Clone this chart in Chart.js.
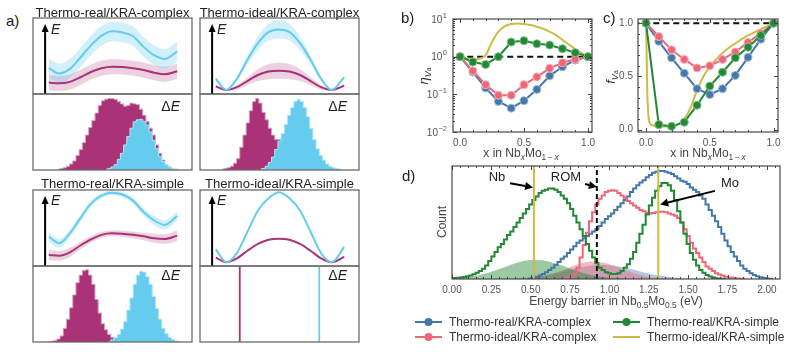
<!DOCTYPE html>
<html><head><meta charset="utf-8">
<script src="https://cdn.jsdelivr.net/npm/chart.js@4"></script>
<style>
body{margin:0;background:#fff;}
#wrap{position:relative;width:792px;height:355px;overflow:hidden;font-family:"Liberation Sans",Arial,sans-serif;background:#fff;}
canvas{position:absolute;}
.t{position:absolute;white-space:nowrap;color:#222;line-height:1;}
.sb{font-size:0.7em;position:relative;top:0.3em;}
</style></head><body><div id="wrap"></div>
<script>
// ---------------- DATA ----------------
// panel a: reaction coordinate for the energy landscapes
const aCoord = [-0.1,0,0.1,0.2,0.3,0.4,0.5,0.6,0.7,0.8,0.9,1.0,1.12];
// Thermo-real/KRA-complex (top-left)
const tlCyan  = [0.34,0.27,0.33,0.48,0.64,0.765,0.825,0.81,0.76,0.62,0.51,0.46,0.56];
const tlCyanU = [0.47,0.40,0.46,0.61,0.77,0.895,0.955,0.94,0.89,0.75,0.64,0.59,0.69];
const tlCyanL = [0.21,0.14,0.20,0.35,0.51,0.635,0.695,0.68,0.63,0.49,0.38,0.33,0.43];
const tlPurp  = [0.15,0.14,0.16,0.22,0.29,0.34,0.36,0.355,0.34,0.315,0.28,0.26,0.30];
const tlPurpU = [0.25,0.24,0.26,0.32,0.39,0.44,0.46,0.455,0.44,0.415,0.38,0.36,0.40];
const tlPurpL = [0.05,0.04,0.06,0.12,0.19,0.24,0.26,0.255,0.24,0.215,0.18,0.16,0.20];
// Thermo-ideal/KRA-complex (top-right)
const trCyan  = [0.20,0.053,0.20,0.45,0.67,0.815,0.85,0.815,0.67,0.45,0.20,0.053,0.22];
const trCyanU = [0.22,0.053,0.23,0.51,0.76,0.925,0.97,0.925,0.76,0.51,0.23,0.053,0.24];
const trCyanL = [0.18,0.053,0.17,0.39,0.58,0.705,0.73,0.705,0.58,0.39,0.17,0.053,0.20];
const trPurp  = [0.10,0.053,0.09,0.17,0.25,0.295,0.307,0.295,0.25,0.17,0.09,0.053,0.11];
const trPurpU = [0.12,0.053,0.12,0.22,0.33,0.395,0.415,0.395,0.33,0.22,0.12,0.053,0.13];
const trPurpL = [0.08,0.053,0.06,0.12,0.17,0.195,0.20,0.195,0.17,0.12,0.06,0.053,0.09];
// Thermo-real/KRA-simple (bottom-left)
const blCyan  = [0.385,0.30,0.43,0.63,0.82,0.925,0.965,0.94,0.86,0.71,0.60,0.54,0.66];
const blCyanU = [0.45,0.36,0.48,0.675,0.86,0.96,0.995,0.975,0.90,0.76,0.66,0.60,0.72];
const blCyanL = [0.32,0.24,0.38,0.585,0.78,0.89,0.935,0.905,0.82,0.66,0.54,0.48,0.60];
const blPurp  = [0.145,0.135,0.18,0.27,0.35,0.41,0.43,0.425,0.41,0.39,0.365,0.355,0.40];
const blPurpU = [0.21,0.20,0.24,0.32,0.395,0.45,0.47,0.465,0.455,0.44,0.425,0.42,0.47];
const blPurpL = [0.08,0.07,0.12,0.22,0.305,0.37,0.39,0.385,0.365,0.34,0.305,0.29,0.33];
// Thermo-ideal/KRA-simple (bottom-right)
const brCyan  = [0.22,0.05,0.17,0.45,0.73,0.89,0.97,0.89,0.73,0.45,0.17,0.05,0.25];
const brPurp  = [0.11,0.05,0.10,0.20,0.29,0.345,0.36,0.345,0.29,0.20,0.10,0.05,0.12];

// panel a: barrier distributions (bin width 0.02 of the panel width)
const aBinW = 0.02;
const tlHistPurpStart = 0.16;
const tlHistPurp = [0.01,0.02,0.03,0.05,0.08,0.12,0.19,0.27,0.36,0.46,0.56,0.65,0.75,0.85,0.91,0.93,0.94,0.94,0.93,0.90,0.87,0.84,0.85,0.88,0.87,0.86,0.80,0.72,0.64,0.55,0.46,0.33,0.22,0.13,0.07,0.04,0.02,0.01,0];
const tlHistCyanStart = 0.46;
const tlHistCyan = [0.01,0.02,0.04,0.07,0.14,0.22,0.33,0.44,0.55,0.635,0.66,0.667,0.64,0.59,0.50,0.39,0.28,0.18,0.11,0.07,0.04,0.02,0.01,0];
const trHistPurpStart = 0.14;
const trHistPurp = [0.01,0.02,0.03,0.05,0.09,0.15,0.30,0.46,0.62,0.78,0.90,0.94,0.88,0.76,0.66,0.55,0.46,0.40,0.40,0.42,0.35,0.25,0.15,0.08,0.04,0.02,0.01,0];
const trHistCyanStart = 0.38;
const trHistCyan = [0.01,0.02,0.05,0.10,0.17,0.27,0.38,0.48,0.60,0.72,0.82,0.90,0.93,0.90,0.82,0.70,0.55,0.40,0.28,0.19,0.13,0.08,0.05,0.03,0.02,0.01,0];
const blHistPurpStart = 0.10;
const blHistPurp = [0.005,0.01,0.02,0.04,0.08,0.18,0.30,0.45,0.62,0.78,0.88,0.94,0.95,0.88,0.76,0.56,0.38,0.24,0.16,0.10,0.06,0.035,0.02,0.01,0];
const blHistCyanStart = 0.48;
const blHistCyan = [0.01,0.03,0.06,0.10,0.17,0.27,0.42,0.58,0.76,0.88,0.93,0.92,0.86,0.76,0.60,0.44,0.30,0.18,0.11,0.06,0.035,0.015,0.005,0];
const brDeltaPurp = 0.25, brDeltaCyan = 0.75;

// panels b, c: composition x in NbxMo1-x
const xComp = [0,0.1,0.2,0.3,0.4,0.5,0.6,0.7,0.8,0.9,1.0];
const etaRealComplex  = [1.0,0.39,0.148,0.065,0.043,0.068,0.135,0.31,0.54,0.81,1.0];
const etaIdealComplex = [1.0,0.42,0.18,0.094,0.094,0.18,0.29,0.49,0.69,0.85,1.0];
const etaRealSimple   = [1.0,0.72,0.62,1.0,2.44,2.65,2.2,2.03,1.63,1.28,1.0];
const xFine = [0,0.05,0.1,0.15,0.2,0.25,0.3,0.35,0.4,0.45,0.5,0.55,0.6,0.65,0.7,0.75,0.8,0.85,0.9,0.95,1.0];
const etaIdealSimple  = [1.0,0.9,0.85,0.88,1.1,2.5,4.6,6.5,7.4,7.6,7.4,6.9,6.2,5.5,4.6,3.7,2.8,2.1,1.6,1.25,1.0];
const fRealComplex  = [1.0,0.83,0.675,0.53,0.385,0.33,0.385,0.51,0.68,0.85,1.0];
const fIdealComplex = [1.0,0.875,0.75,0.66,0.58,0.60,0.66,0.73,0.82,0.905,1.0];
const fRealSimple   = [1.0,0.047,0.031,0.07,0.23,0.41,0.54,0.675,0.775,0.885,1.0];
const xFineC = [0,0.005,0.01,0.02,0.03,0.05,0.1,0.15,0.2,0.25,0.3,0.35,0.4,0.45,0.5,0.55,0.6,0.65,0.7,0.75,0.8,0.85,0.9,0.95,1.0];
const fIdealSimple  = [1.0,0.7,0.35,0.12,0.06,0.04,0.03,0.03,0.035,0.05,0.10,0.21,0.37,0.50,0.59,0.66,0.72,0.77,0.81,0.85,0.885,0.915,0.945,0.97,1.0];
const refLevel = 1;
const bYTicks = [0.01,0.1,1,10];
const bcXTicks = [0,0.5,1.0];
const bcXTickLabels = ['0.0','0.5','1.0'];
const cYTicks = [0,0.5,1.0];
const cYTickLabels = ['0.0','0.5','1.0'];

// panel d: barrier histograms in Nb0.5Mo0.5 (bin width 0.02 eV, normalised counts)
const dBinW = 0.02;
const dGreenStart = 0.00;
const dGreen = [0.005,0.008,0.010,0.013,0.018,0.024,0.032,0.042,0.055,0.07,0.09,0.12,0.16,0.20,0.24,0.28,0.31,0.35,0.39,0.42,0.46,0.50,0.54,0.58,0.62,0.66,0.70,0.73,0.76,0.78,0.79,0.80,0.80,0.79,0.77,0.74,0.71,0.67,0.62,0.56,0.50,0.44,0.38,0.31,0.25,0.19,0.14,0.10,0.08,0.06,0.05,0.045,0.045,0.05,0.07,0.10,0.13,0.18,0.24,0.32,0.40,0.48,0.57,0.65,0.72,0.78,0.82,0.85,0.85,0.83,0.78,0.70,0.60,0.50,0.40,0.31,0.23,0.17,0.12,0.08,0.055,0.035,0.022,0.013,0.007,0.004,0.002,0];
const dBlueStart = 0.48;
const dBlue = [0.002,0.005,0.01,0.02,0.03,0.045,0.06,0.08,0.10,0.125,0.15,0.18,0.20,0.23,0.26,0.29,0.32,0.34,0.36,0.38,0.40,0.42,0.44,0.47,0.50,0.53,0.555,0.58,0.61,0.64,0.67,0.70,0.73,0.77,0.80,0.83,0.855,0.875,0.90,0.92,0.94,0.95,0.955,0.955,0.95,0.94,0.93,0.91,0.89,0.87,0.86,0.84,0.81,0.79,0.77,0.74,0.71,0.66,0.61,0.56,0.51,0.46,0.40,0.34,0.29,0.24,0.20,0.16,0.12,0.09,0.07,0.05,0.035,0.025,0.015,0.01,0.005,0.003,0.001];
const dRedStart = 0.70;
const dRed = [0.002,0.005,0.01,0.02,0.04,0.10,0.19,0.30,0.41,0.51,0.59,0.66,0.71,0.74,0.77,0.78,0.785,0.78,0.76,0.74,0.72,0.69,0.67,0.65,0.63,0.61,0.60,0.585,0.58,0.585,0.59,0.595,0.595,0.59,0.58,0.57,0.56,0.54,0.50,0.44,0.38,0.32,0.27,0.23,0.19,0.15,0.11,0.09,0.07,0.05,0.04,0.03,0.02,0.014,0.01,0.007,0.005,0.003,0.002];
// faint filled distributions (0.05 eV spacing)
const dFillW = 0.05;
const dGreenFillStart = 0.0;
const dGreenFill = [0.005,0.0095,0.017,0.028,0.044,0.064,0.088,0.113,0.138,0.157,0.168,0.169,0.160,0.142,0.119,0.093,0.068,0.047,0.031,0.019,0.011,0.006,0.003,0.001,0];
const dRedFillStart = 0.40;
const dRedFill = [0.002,0.005,0.010,0.019,0.033,0.053,0.078,0.105,0.130,0.148,0.155,0.148,0.130,0.105,0.078,0.053,0.033,0.019,0.010,0.005,0.002,0];
const dBlueFillStart = 0.30;
const dBlueFill = [0.0016,0.003,0.0055,0.0095,0.0155,0.024,0.035,0.049,0.065,0.083,0.099,0.113,0.122,0.125,0.122,0.113,0.099,0.083,0.065,0.049,0.035,0.024,0.0155,0.0095,0.0055,0.003,0.0016,0];
const dIdealBarriers = [0.52, 1.31];   // Nb, Mo
const dRomBarrier = 0.92;
const dXTicks = [0,0.25,0.5,0.75,1.0,1.25,1.5,1.75,2.0];
const dXTickLabels = ['0.00','0.25','0.50','0.75','1.00','1.25','1.50','1.75','2.00'];

const legendNames = ['Thermo-real/KRA-complex','Thermo-ideal/KRA-complex','Thermo-real/KRA-simple','Thermo-ideal/KRA-simple'];

// ---------------- STYLE ----------------
const CYAN='#66CCEE', PURP='#AA3377', BLUE='#4477AA', RED='#EE6677', GREEN='#228833', YELLOW='#CCBB44';
const wrap = document.getElementById('wrap');
const DEC = {};

function makeCanvas(id, left, top, w, h){
  const c = document.createElement('canvas');
  c.id = id; c.width = w; c.height = h;
  c.style.left = left+'px'; c.style.top = top+'px';
  c.style.width = w+'px'; c.style.height = h+'px';
  wrap.appendChild(c); return c;
}
function txt(html, x, y, size, align, extra){
  const d = document.createElement('div'); d.className='t'; d.innerHTML = html;
  d.style.fontSize = size+'px'; d.style.left = x+'px'; d.style.top = y+'px';
  const tx = align==='center' ? '-50%' : (align==='right' ? '-100%' : '0');
  d.style.transform = 'translate('+tx+',-50%)';
  if (extra && extra.color) d.style.color = extra.color;
  wrap.appendChild(d); return d;
}
function rtxt(html, cx, cy, size, color){
  const d = document.createElement('div'); d.className='t'; d.innerHTML = html;
  d.style.fontSize = size+'px'; d.style.left = cx+'px'; d.style.top = cy+'px';
  d.style.transform = 'translate(-50%,-50%) rotate(-90deg)';
  if (color) d.style.color = color;
  wrap.appendChild(d); return d;
}
const pts = (xs, ys) => ys.map((y,i)=>({x:xs[i], y:y}));
const binPts = (start, w, ys) => ys.map((y,i)=>({x:+(start+i*w).toFixed(4), y:y}));

function drawArrow(ctx, x0, y0, x1, y1, lw, hl, hw){
  const ang = Math.atan2(y1-y0, x1-x0);
  const bx = x1 - hl*Math.cos(ang), by = y1 - hl*Math.sin(ang);
  ctx.lineWidth = lw; ctx.strokeStyle = '#000'; ctx.fillStyle = '#000';
  ctx.beginPath(); ctx.moveTo(x0,y0); ctx.lineTo(bx,by); ctx.stroke();
  ctx.beginPath(); ctx.moveTo(x1,y1);
  ctx.lineTo(bx + hw*Math.sin(ang), by - hw*Math.cos(ang));
  ctx.lineTo(bx - hw*Math.sin(ang), by + hw*Math.cos(ang));
  ctx.closePath(); ctx.fill();
}

const decor = {
  id:'decor',
  afterDraw(chart){
    const o = DEC[chart.canvas.id]; if(!o) return;
    const ctx = chart.ctx, a = chart.chartArea, xs = chart.scales.x, ys = chart.scales.y;
    ctx.save();
    ctx.strokeStyle = o.frame || '#4a4a4a'; ctx.lineWidth = o.frameW || 1.2;
    ctx.strokeRect(a.left, a.top, a.right-a.left, a.bottom-a.top);
    ctx.strokeStyle = '#444'; ctx.lineWidth = 1;
    const xt = (vals, len) => { if(!vals) return; vals.forEach(v => {
      const p = Math.round(xs.getPixelForValue(v))+0.5;
      ctx.beginPath(); ctx.moveTo(p,a.bottom); ctx.lineTo(p,a.bottom-len);
      ctx.moveTo(p,a.top); ctx.lineTo(p,a.top+len); ctx.stroke(); }); };
    const yt = (vals, len) => { if(!vals) return; vals.forEach(v => {
      const p = Math.round(ys.getPixelForValue(v))+0.5;
      ctx.beginPath(); ctx.moveTo(a.left,p); ctx.lineTo(a.left+len,p);
      ctx.moveTo(a.right,p); ctx.lineTo(a.right-len,p); ctx.stroke(); }); };
    xt(o.xMajor,4); xt(o.xMinor,2); yt(o.yMajor,4); yt(o.yMinor,2);
    ctx.fillStyle = '#555'; ctx.font = '10px "Liberation Sans", Arial, sans-serif';
    if (o.xLabels){ ctx.textAlign='center'; ctx.textBaseline='middle';
      o.xMajor.forEach((v,i)=>ctx.fillText(o.xLabels[i], xs.getPixelForValue(v), a.bottom+11)); }
    if (o.yLabels){ ctx.textAlign='right'; ctx.textBaseline='middle';
      o.yMajor.forEach((v,i)=>ctx.fillText(o.yLabels[i], a.left-5, ys.getPixelForValue(v))); }
    if (o.yPow){ ctx.textBaseline='middle';
      o.yMajor.forEach(v=>{
        const e = Math.round(Math.log10(v)); const es = (e<0?'\u2212':'')+Math.abs(e);
        const py = ys.getPixelForValue(v);
        ctx.font = '7.5px "Liberation Sans", Arial, sans-serif'; ctx.textAlign='right';
        const ew = ctx.measureText(es).width;
        ctx.fillText(es, a.left-6, py-3.5);
        ctx.font = '10px "Liberation Sans", Arial, sans-serif';
        ctx.fillText('10', a.left-6.5-ew, py+1);
      }); }
    if (o.eArrow){ const ar=o.eArrow;
      drawArrow(ctx, xs.getPixelForValue(ar[0]), ys.getPixelForValue(ar[1]), xs.getPixelForValue(ar[0]), ys.getPixelForValue(ar[2]), 2, 8, 3.5); }
    if (o.arrows){ o.arrows.forEach(ar=>drawArrow(ctx, xs.getPixelForValue(ar[0]), ys.getPixelForValue(ar[1]), xs.getPixelForValue(ar[2]), ys.getPixelForValue(ar[3]), 2, 8, 4)); }
    if (o.legend){
      ctx.font = '12px "Liberation Sans", Arial, sans-serif'; ctx.textAlign='left'; ctx.textBaseline='middle';
      o.legend.forEach(L=>{
        ctx.strokeStyle = L.c; ctx.lineWidth = 2;
        ctx.beginPath(); ctx.moveTo(L.x, L.y); ctx.lineTo(L.x+27, L.y); ctx.stroke();
        if (L.m){ ctx.fillStyle = L.c; ctx.beginPath(); ctx.arc(L.x+13.5, L.y, 4, 0, Math.PI*2); ctx.fill(); }
        ctx.fillStyle = '#333'; ctx.fillText(L.t, L.x+34, L.y+0.5);
      });
    }
    ctx.restore();
  }
};
Chart.register(decor);

function baseOpts(pad, xr, yr, ytype){
  return {
    responsive:false, animation:false, devicePixelRatio:1,
    layout:{padding:pad},
    plugins:{legend:{display:false}, tooltip:{enabled:false}, title:{display:false}},
    scales:{
      x:{type:'linear', display:false, min:xr[0], max:xr[1]},
      y:{type:ytype||'linear', display:false, min:yr[0], max:yr[1]}
    },
    elements:{point:{radius:0}}
  };
}
const curve = (xs, ys, color, w) => ({data:pts(xs,ys), borderColor:color, borderWidth:w, fill:false, cubicInterpolationMode:'monotone', pointRadius:0});
const bandU = (xs, ys, color) => ({data:pts(xs,ys), borderColor:'rgba(255,255,255,0.5)', borderWidth:0.6, backgroundColor:color, fill:'+1', cubicInterpolationMode:'monotone', pointRadius:0});
const bandL = (xs, ys) => ({data:pts(xs,ys), borderColor:'rgba(255,255,255,0.5)', borderWidth:0.6, fill:false, cubicInterpolationMode:'monotone', pointRadius:0});
const hist = (start, w, ys, fillC, edgeC) => ({data:binPts(start,w,ys), stepped:'middle', borderColor:edgeC, borderWidth:1, backgroundColor:fillC, fill:'origin', pointRadius:0});

// ---------------- PANEL a ----------------
const aX = [-0.25, 1.26];
function aTop(id, left, top, cy, cyU, cyL, pu, puU, puL){
  const c = makeCanvas(id, left-2, top-2, 163, 80);
  const ds = [curve(aCoord, cy, CYAN, 2), curve(aCoord, pu, PURP, 2)];
  if (cyU) { ds.push(bandU(aCoord, cyU, 'rgba(102,204,238,0.3)')); ds.push(bandL(aCoord, cyL)); }
  if (puU) { ds.push(bandU(aCoord, puU, 'rgba(170,51,119,0.22)')); ds.push(bandL(aCoord, puL)); }
  DEC[id] = {frame:'#6a6a6a', frameW:1.3, eArrow:[-0.135, 0, 0.92]};
  new Chart(c, {type:'line', data:{datasets:ds}, options:baseOpts({left:2,right:2,top:2,bottom:2}, aX, [0,1])});
}
function aBottom(id, left, top, datasets){
  const c = makeCanvas(id, left-2, top-2, 163, 80);
  DEC[id] = {frame:'#6a6a6a', frameW:1.3};
  new Chart(c, {type:'line', data:{datasets:datasets}, options:baseOpts({left:2,right:2,top:2,bottom:2}, [0,1], [0,1])});
}
const PFILL = PURP, PEDGE = '#d7a3c3', CFILL = CYAN, CEDGE = '#b4e6f7';
aTop('tlTop', 33, 18, tlCyan, tlCyanU, tlCyanL, tlPurp, tlPurpU, tlPurpL);
aBottom('tlBot', 33, 94, [hist(tlHistCyanStart, aBinW, tlHistCyan, CFILL, CEDGE), hist(tlHistPurpStart, aBinW, tlHistPurp, PFILL, PEDGE)]);
aTop('trTop', 200, 18, trCyan, trCyanU, trCyanL, trPurp, trPurpU, trPurpL);
aBottom('trBot', 200, 94, [hist(trHistCyanStart, aBinW, trHistCyan, CFILL, CEDGE), hist(trHistPurpStart, aBinW, trHistPurp, PFILL, PEDGE)]);
aTop('blTop', 33, 190, blCyan, blCyanU, blCyanL, blPurp, blPurpU, blPurpL);
aBottom('blBot', 33, 266, [hist(blHistCyanStart, aBinW, blHistCyan, CFILL, CEDGE), hist(blHistPurpStart, aBinW, blHistPurp, PFILL, PEDGE)]);
aTop('brTop', 200, 190, brCyan, null, null, brPurp, null, null);
aBottom('brBot', 200, 266, [
  {data:[{x:brDeltaCyan,y:0},{x:brDeltaCyan,y:1}], borderColor:CYAN, borderWidth:1.8, pointRadius:0},
  {data:[{x:brDeltaPurp,y:0},{x:brDeltaPurp,y:1}], borderColor:PURP, borderWidth:1.8, pointRadius:0}
]);

// ---------------- PANELS b, c ----------------
function markerSeries(xs, ys, color, edge){
  return {data:pts(xs,ys), borderColor:color, borderWidth:2, pointRadius:4, pointBackgroundColor:color, pointBorderColor:edge, pointBorderWidth:1, fill:false};
}
const dashed = (x0, x1) => ({data:[{x:x0,y:refLevel},{x:x1,y:refLevel}], borderColor:'#111', borderWidth:2, borderDash:[6,4], pointRadius:0});
const yellowLine = (xs, ys) => ({data:pts(xs,ys), borderColor:YELLOW, borderWidth:2, pointRadius:0, cubicInterpolationMode:'monotone', fill:false});

const cb = makeCanvas('bChart', 400, 0, 200, 160);
DEC.bChart = {xMajor:bcXTicks, xMinor:[0.1,0.2,0.3,0.4,0.6,0.7,0.8,0.9], xLabels:bcXTickLabels,
  yMajor:bYTicks, yMinor:[0.02,0.03,0.04,0.05,0.06,0.07,0.08,0.09,0.2,0.3,0.4,0.5,0.6,0.7,0.8,0.9,2,3,4,5,6,7,8,9], yPow:true};
new Chart(cb, {type:'line', data:{datasets:[
  markerSeries(xComp, etaRealSimple, GREEN, '#7fbf8a'),
  markerSeries(xComp, etaIdealComplex, RED, '#f6b3bb'),
  markerSeries(xComp, etaRealComplex, BLUE, '#a2bbd5'),
  yellowLine(xFine, etaIdealSimple),
  dashed(-0.1, 1.1)
]}, options:baseOpts({left:53,top:19,right:8,bottom:28}, [-0.055,1.031], [0.01,10], 'logarithmic')});

const cc = makeCanvas('cChart', 600, 0, 192, 160);
DEC.cChart = {xMajor:bcXTicks, xMinor:[0.1,0.2,0.3,0.4,0.6,0.7,0.8,0.9], xLabels:bcXTickLabels,
  yMajor:cYTicks, yMinor:[0.1,0.2,0.3,0.4,0.6,0.7,0.8,0.9], yLabels:cYTickLabels};
new Chart(cc, {type:'line', data:{datasets:[
  markerSeries(xComp, fRealSimple, GREEN, '#7fbf8a'),
  markerSeries(xComp, fIdealComplex, RED, '#f6b3bb'),
  markerSeries(xComp, fRealComplex, BLUE, '#a2bbd5'),
  yellowLine(xFineC, fIdealSimple),
  dashed(-0.1, 1.1)
]}, options:baseOpts({left:38,top:19,right:14,bottom:28}, [-0.063,1.035], [-0.022,1.04])});

// ---------------- PANEL d ----------------
const cd = makeCanvas('dChart', 400, 160, 392, 195);
const vline = (x, color, dash) => ({data:[{x:x,y:0},{x:x,y:1}], borderColor:color, borderWidth:2, borderDash:dash||[], pointRadius:0});
const stepLine = (start, ys, color) => ({data:binPts(start, dBinW, ys), stepped:'middle', borderColor:color, borderWidth:2, pointRadius:0, fill:false});
const softFill = (start, ys, color) => ({data:binPts(start, dFillW, ys), borderWidth:0, backgroundColor:color, fill:'origin', tension:0.4, pointRadius:0});
DEC.dChart = {
  xMajor:dXTicks, xLabels:dXTickLabels,
  xMinor:[0.05,0.1,0.15,0.2,0.3,0.35,0.4,0.45,0.55,0.6,0.65,0.7,0.8,0.85,0.9,0.95,1.05,1.1,1.15,1.2,1.3,1.35,1.4,1.45,1.55,1.6,1.65,1.7,1.8,1.85,1.9,1.95,2.05],
  arrows:[[0.368,0.847,0.515,0.81],[0.845,0.84,0.92,0.815],[1.67,0.78,1.322,0.66]],
  legend:[
    {x:15, y:162, c:BLUE, m:true, t:legendNames[0]},
    {x:15, y:177, c:RED, m:true, t:legendNames[1]},
    {x:213, y:162, c:GREEN, m:true, t:legendNames[2]},
    {x:213, y:177, c:YELLOW, m:false, t:legendNames[3]}
  ]
};
new Chart(cd, {type:'line', data:{datasets:[
  vline(dRomBarrier, '#111', [5,3]),
  vline(dIdealBarriers[0], YELLOW),
  vline(dIdealBarriers[1], YELLOW),
  stepLine(dGreenStart, dGreen, GREEN),
  stepLine(dRedStart, dRed, RED),
  stepLine(dBlueStart, dBlue, BLUE),
  softFill(dGreenFillStart, dGreenFill, 'rgba(34,136,51,0.45)'),
  softFill(dRedFillStart, dRedFill, 'rgba(238,102,119,0.45)'),
  softFill(dBlueFillStart, dBlueFill, 'rgba(68,119,170,0.4)')
]}, options:baseOpts({left:52,top:6,right:12,bottom:76}, [0,2.083], [0,1])});

// ---------------- TEXT ----------------
txt('a)', 6, 20, 15, 'left');
txt('b)', 401, 17, 15, 'left');
txt('c)', 603, 17, 15, 'left');
txt('d)', 402, 175, 15, 'left');
txt('Thermo-real/KRA-complex', 112.5, 12, 13, 'center');
txt('Thermo-ideal/KRA-complex', 279.5, 12, 13, 'center');
txt('Thermo-real/KRA-simple', 112.5, 183, 13, 'center');
txt('Thermo-ideal/KRA-simple', 279.5, 183, 13, 'center');
[[51,29],[217,29],[51,200],[217,200]].forEach(p=>txt('<i>E</i>', p[0], p[1], 14, 'left'));
[[180,106],[347,106],[180,275],[347,275]].forEach(p=>txt('&Delta;<i>E</i>', p[0], p[1], 14, 'right'));
rtxt('<i>&eta;</i><span class="sb"><i>V</i><span style="font-size:0.75em">a</span></span>', 424, 76, 13, '#333');
rtxt('<i>f</i><span class="sb"><i>V</i><span style="font-size:0.75em">a</span></span>', 611, 77, 13, '#333');
txt('x in Nb<span class="sb"><i>x</i></span>Mo<span class="sb">1&thinsp;&minus;&thinsp;<i>x</i></span>', 521, 153, 12, 'center', {color:'#444'});
txt('x in Nb<span class="sb"><i>x</i></span>Mo<span class="sb">1&thinsp;&minus;&thinsp;<i>x</i></span>', 708, 153, 12, 'center', {color:'#444'});
txt('Energy barrier in Nb<span class="sb">0.5</span>Mo<span class="sb">0.5</span> (eV)', 616, 301, 12, 'center', {color:'#444'});
rtxt('Count', 442, 222, 12, '#444');
txt('Nb', 497, 176, 13, 'center');
txt('ROM', 566, 176, 13, 'center');
txt('Mo', 730, 182, 13, 'center');
</script></body></html>
